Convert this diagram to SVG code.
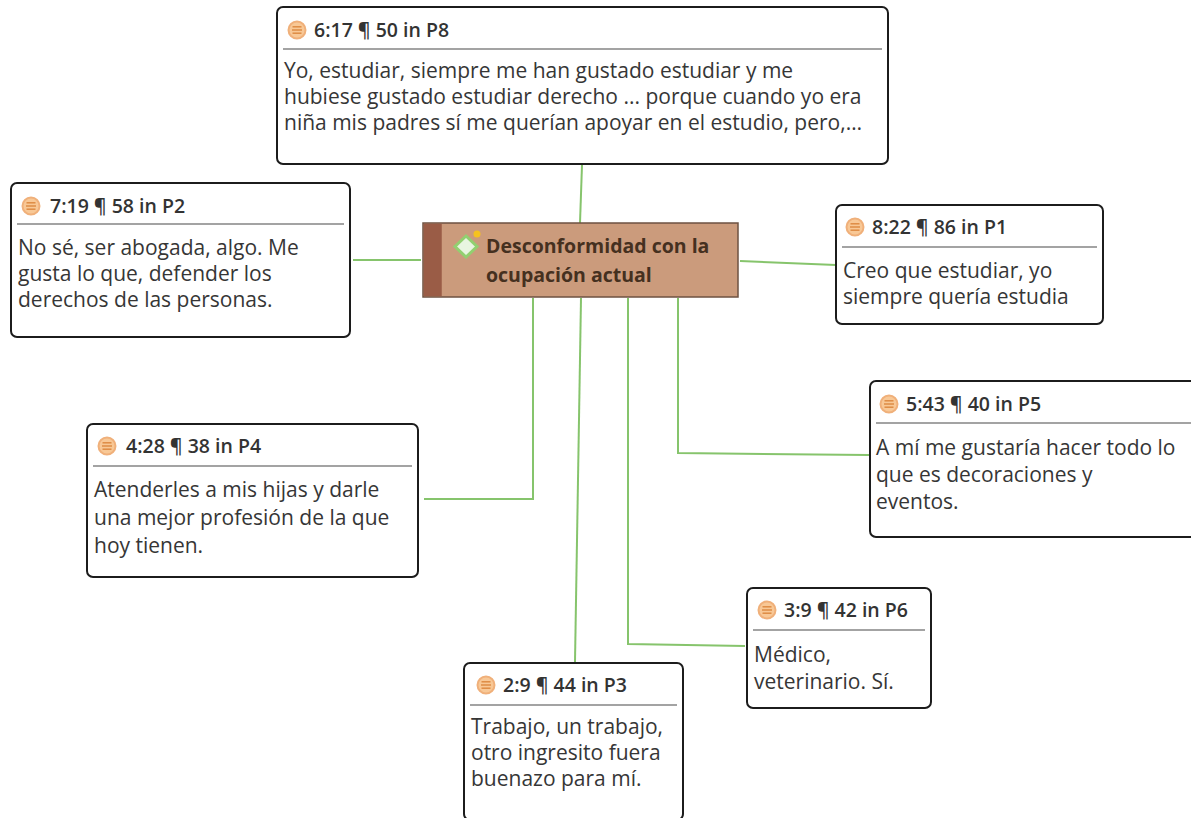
<svg xmlns="http://www.w3.org/2000/svg" width="1191" height="818" viewBox="0 0 1191 818">
<style>
.box{fill:#fff;stroke:#1c1c1c;stroke-width:2}
.sep{stroke:#a3a3a3;stroke-width:2}
.hd{font-family:"Open Sans","Noto Sans",sans-serif;font-weight:600;font-size:19.5px;fill:#333}
.bd{font-family:"Open Sans","Noto Sans",sans-serif;font-size:21px;fill:#363636}
.ct{font-family:"Open Sans","Noto Sans",sans-serif;font-weight:bold;font-size:19.5px;fill:#45301f}
.con{fill:none;stroke:#86c46c;stroke-width:2}
</style>
<defs>
<g id="qi">
<circle r="8.5" fill="#f8c896" stroke="#f0b07a" stroke-width="2"/>
<line x1="-4.5" y1="-3.2" x2="4.5" y2="-3.2" stroke="#de8c44" stroke-width="1.5"/>
<line x1="-5" y1="0" x2="5" y2="0" stroke="#de8c44" stroke-width="1.5"/>
<line x1="-4.5" y1="3.2" x2="4.5" y2="3.2" stroke="#de8c44" stroke-width="1.5"/>
</g>
</defs>
<rect width="1191" height="818" fill="#fff"/>
<g id="connectors">
<path class="con" d="M582,165 L580,223"/>
<path class="con" d="M353,260 L421,260"/>
<path class="con" d="M740,261 L836,265"/>
<path class="con" d="M533,298 L533,499 L424,499"/>
<path class="con" d="M581,298 L575,662"/>
<path class="con" d="M628,298 L628,644 L745,646"/>
<path class="con" d="M678,298 L678,453 L869,455"/>
</g>
<g id="central">
<rect x="423" y="223" width="315" height="74" fill="#cb9b7c" stroke="#6e5242" stroke-width="1.5"/>
<rect x="423.75" y="223.75" width="18" height="72.5" fill="#9a5c46"/>
<path d="M466,236 L477,246.5 L466,257 L455,246.5 Z" fill="#e8f5e0" stroke="#92d070" stroke-width="3"/>
<circle cx="477" cy="234" r="3.5" fill="#f5c21f"/>
<text class="ct" x="486" y="253">Desconformidad con la</text>
<text class="ct" x="486" y="282">ocupación actual</text>
</g>
<g id="q617">
<rect class="box" x="277" y="7" width="611" height="157" rx="6"/>
<use href="#qi" x="297" y="30"/>
<text class="hd" x="314" y="37">6:17 ¶ 50 in P8</text>
<line class="sep" x1="283" y1="49" x2="882" y2="49"/>
<text class="bd" x="284" y="78">Yo, estudiar, siempre me han gustado estudiar y me</text>
<text class="bd" x="284" y="104">hubiese gustado estudiar derecho ... porque cuando yo era</text>
<text class="bd" x="284" y="130">niña mis padres sí me querían apoyar en el estudio, pero,…</text>
</g>
<g id="q719">
<rect class="box" x="11" y="183" width="339" height="154" rx="6"/>
<use href="#qi" x="31" y="206"/>
<text class="hd" x="50" y="213">7:19 ¶ 58 in P2</text>
<line class="sep" x1="17" y1="224" x2="344" y2="224"/>
<text class="bd" x="18" y="255">No sé, ser abogada, algo. Me</text>
<text class="bd" x="18" y="281">gusta lo que, defender los</text>
<text class="bd" x="18" y="307">derechos de las personas.</text>
</g>
<g id="q822">
<rect class="box" x="836" y="205" width="267" height="119" rx="6"/>
<use href="#qi" x="855" y="227"/>
<text class="hd" x="872" y="234">8:22 ¶ 86 in P1</text>
<line class="sep" x1="842" y1="247" x2="1097" y2="247"/>
<text class="bd" x="843" y="278">Creo que estudiar, yo</text>
<text class="bd" x="843" y="304">siempre quería estudia</text>
</g>
<g id="q543">
<rect class="box" x="870" y="381" width="340" height="156" rx="6"/>
<use href="#qi" x="889" y="404"/>
<text class="hd" x="906" y="411">5:43 ¶ 40 in P5</text>
<line class="sep" x1="876" y1="423" x2="1200" y2="423"/>
<text class="bd" x="876" y="455">A mí me gustaría hacer todo lo</text>
<text class="bd" x="876" y="482">que es decoraciones y</text>
<text class="bd" x="876" y="509">eventos.</text>
</g>
<g id="q428">
<rect class="box" x="87" y="424" width="331" height="153" rx="6"/>
<use href="#qi" x="107" y="446"/>
<text class="hd" x="126" y="453">4:28 ¶ 38 in P4</text>
<line class="sep" x1="93" y1="466" x2="412" y2="466"/>
<text class="bd" x="94" y="497">Atenderles a mis hijas y darle</text>
<text class="bd" x="94" y="525">una mejor profesión de la que</text>
<text class="bd" x="94" y="553">hoy tienen.</text>
</g>
<g id="q39">
<rect class="box" x="747" y="588" width="184" height="120" rx="6"/>
<use href="#qi" x="767" y="610"/>
<text class="hd" x="784" y="617">3:9 ¶ 42 in P6</text>
<line class="sep" x1="753" y1="630" x2="925" y2="630"/>
<text class="bd" x="754" y="662">Médico,</text>
<text class="bd" x="754" y="689">veterinario. Sí.</text>
</g>
<g id="q29">
<rect class="box" x="464" y="663" width="219" height="157" rx="6"/>
<use href="#qi" x="486" y="685"/>
<text class="hd" x="503" y="692">2:9 ¶ 44 in P3</text>
<line class="sep" x1="470" y1="705" x2="677" y2="705"/>
<text class="bd" x="471" y="734">Trabajo, un trabajo,</text>
<text class="bd" x="471" y="760">otro ingresito fuera</text>
<text class="bd" x="471" y="786">buenazo para mí.</text>
</g>
</svg>
